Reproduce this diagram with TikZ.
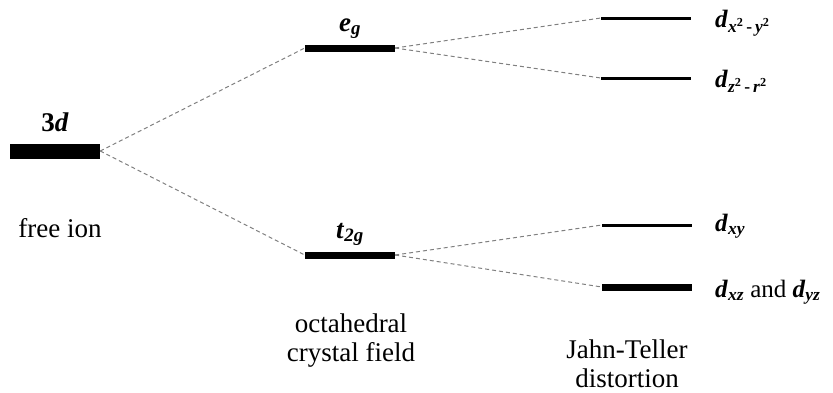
\documentclass[tikz,border=0pt]{standalone}
\usepackage{fontspec}
\setmainfont{Liberation Serif}
\usetikzlibrary{positioning}

\newcommand{\orb}[1]{\textbf{\textit{#1}}}

\begin{document}
\begin{tikzpicture}[
    x=1pt,
    y=-1pt,
    font=\fontsize{27}{29}\selectfont,
    % Stili per i livelli energetici
    level/.style={fill=black, inner sep=0pt, minimum width=90pt},
    fine/.style={level, minimum height=3pt},
    medio/.style={level, minimum height=7pt},
    spesso/.style={level, minimum height=15pt},
    % Stile per le etichette
    nome/.style={inner sep=0pt, align=center},
    orbitale/.style={inner sep=0pt, anchor=base west, font=\fontsize{25}{29}\selectfont},
    % Stile per le linee tratteggiate
    split/.style={gray, line width=1pt, dash pattern=on 4pt off 3pt}
]
    \useasboundingbox (0,0) rectangle (833,392);

    % Definizione dei livelli
    \node[spesso] (d3)  at (55,151) {};
    \node[medio]  (eg)  at (350,48) {};
    \node[medio]  (t2g) at (350,255) {};
    \node[fine]   (dx2) at (646,18) {};
    \node[fine]   (dz2) at (646,78) {};
    \node[fine]   (dxy) at (647,225) {};
    \node[level, minimum height=7pt] (dxz) at (647,287) {};

    % Etichette
    \node[nome, anchor=base] (l3d)  at (55,131)  {\textbf{3}\orb{d}};
    \node[nome, anchor=base] (leg)  at (350,31)  {\orb{e}\textsubscript{\orb{g}}};
    \node[nome, anchor=base] (lt2g) at (350,238) {\orb{t}\textsubscript{\orb{2g}}};
    \node[orbitale] (ldx2) at (715,27)  {\orb{d}\textsubscript{\orb{x}\textsuperscript{\textbf{2}}\,\textbf{-}\,\orb{y}\textsuperscript{\textbf{2}}}};
    \node[orbitale] (ldz2) at (715,87)  {\orb{d}\textsubscript{\orb{z}\textsuperscript{\textbf{2}}\,\textbf{-}\,\orb{r}\textsuperscript{\textbf{2}}}};
    \node[orbitale] (ldxy) at (715,231) {\orb{d}\textsubscript{\orb{xy}}};
    \node[orbitale] (ldxz) at (715,297) {\orb{d}\textsubscript{\orb{xz}} and \orb{d}\textsubscript{\orb{yz}}};

    % Didascalie in basso
    \node[nome, anchor=base] (ion) at (60,237)  {free ion};
    \node[nome, anchor=base] (oct) at (351,361) {octahedral\\crystal field};
    \node[nome, anchor=base] (jt)  at (627,387) {Jahn-Teller\\distortion};

    % Linee di separazione
    \draw[split] (d3.east)  -- (eg.west);
    \draw[split] (d3.east)  -- (t2g.west);
    \draw[split] (eg.east)  -- (dx2.west);
    \draw[split] (eg.east)  -- (dz2.west);
    \draw[split] (t2g.east) -- (dxy.west);
    \draw[split] (t2g.east) -- (dxz.west);

\end{tikzpicture}
\end{document}
